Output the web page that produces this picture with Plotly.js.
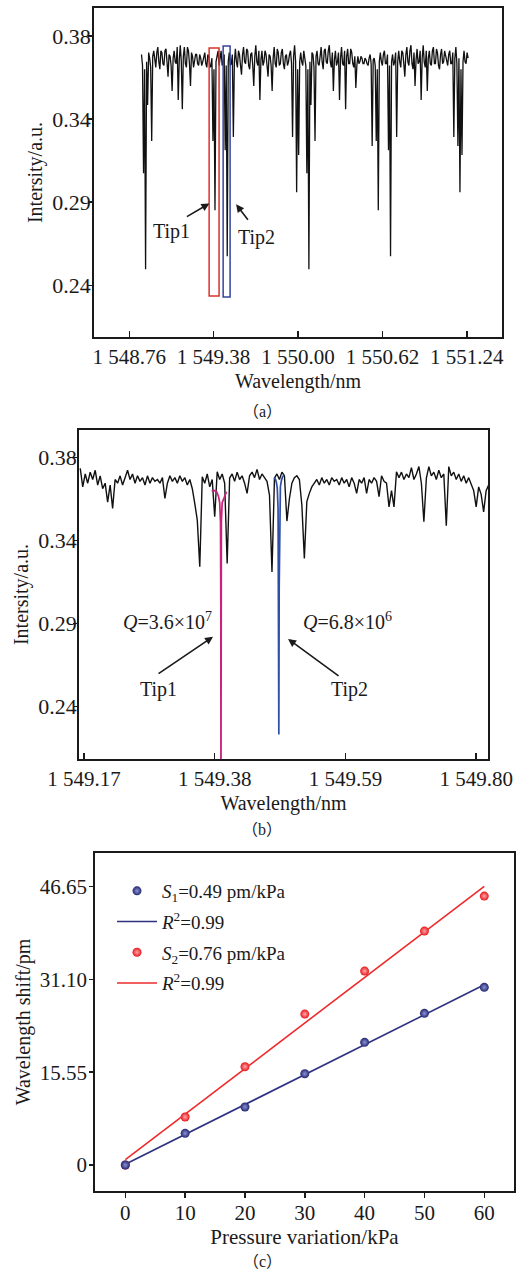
<!DOCTYPE html>
<html><head><meta charset="utf-8">
<script src="https://cdn.plot.ly/plotly-3.0.1.min.js"></script>
<style>html,body{margin:0;padding:0;background:#fff}#chart{width:520px;height:1273px}</style>
</head><body><div id="chart"></div>
<script>
// ---------- (a) full spectrum ----------
const wlA = [
1548.8500,1548.8575,1548.8650,1548.8725,1548.8800,1548.8875,1548.8950,1548.9025,1548.9100,1548.9175,1548.9250,1548.9325,1548.9400,1548.9475,1548.9550,1548.9625,1548.9700,1548.9775,1548.9850,1548.9925,
1549.0000,1549.0075,1549.0150,1549.0225,1549.0300,1549.0375,1549.0450,1549.0525,1549.0600,1549.0675,1549.0750,1549.0825,1549.0900,1549.0975,1549.1050,1549.1125,1549.1200,1549.1275,1549.1350,1549.1425,
1549.1500,1549.1575,1549.1650,1549.1725,1549.1800,1549.1875,1549.1950,1549.2025,1549.2100,1549.2175,1549.2250,1549.2325,1549.2400,1549.2475,1549.2550,1549.2625,1549.2700,1549.2775,1549.2850,1549.2925,
1549.3000,1549.3075,1549.3150,1549.3225,1549.3300,1549.3375,1549.3450,1549.3525,1549.3600,1549.3675,1549.3750,1549.3825,1549.3900,1549.3975,1549.4050,1549.4125,1549.4200,1549.4275,1549.4350,1549.4425,
1549.4500,1549.4575,1549.4650,1549.4725,1549.4800,1549.4875,1549.4950,1549.5025,1549.5100,1549.5175,1549.5250,1549.5325,1549.5400,1549.5475,1549.5550,1549.5625,1549.5700,1549.5775,1549.5850,1549.5925,
1549.6000,1549.6075,1549.6150,1549.6225,1549.6300,1549.6375,1549.6450,1549.6525,1549.6600,1549.6675,1549.6750,1549.6825,1549.6900,1549.6975,1549.7050,1549.7125,1549.7200,1549.7275,1549.7350,1549.7425,
1549.7500,1549.7575,1549.7650,1549.7725,1549.7800,1549.7875,1549.7950,1549.8025,1549.8100,1549.8175,1549.8250,1549.8325,1549.8400,1549.8475,1549.8550,1549.8625,1549.8700,1549.8775,1549.8850,1549.8925,
1549.9000,1549.9075,1549.9150,1549.9225,1549.9300,1549.9375,1549.9450,1549.9525,1549.9600,1549.9675,1549.9750,1549.9825,1549.9900,1549.9975,1550.0050,1550.0125,1550.0200,1550.0275,1550.0350,1550.0425,
1550.0500,1550.0575,1550.0650,1550.0725,1550.0800,1550.0875,1550.0950,1550.1025,1550.1100,1550.1175,1550.1250,1550.1325,1550.1400,1550.1475,1550.1550,1550.1625,1550.1700,1550.1775,1550.1850,1550.1925,
1550.2000,1550.2075,1550.2150,1550.2225,1550.2300,1550.2375,1550.2450,1550.2525,1550.2600,1550.2675,1550.2750,1550.2825,1550.2900,1550.2975,1550.3050,1550.3125,1550.3200,1550.3275,1550.3350,1550.3425,
1550.3500,1550.3575,1550.3650,1550.3725,1550.3800,1550.3875,1550.3950,1550.4025,1550.4100,1550.4175,1550.4250,1550.4325,1550.4400,1550.4475,1550.4550,1550.4625,1550.4700,1550.4775,1550.4850,1550.4925,
1550.5000,1550.5075,1550.5150,1550.5225,1550.5300,1550.5375,1550.5450,1550.5525,1550.5600,1550.5675,1550.5750,1550.5825,1550.5900,1550.5975,1550.6050,1550.6125,1550.6200,1550.6275,1550.6350,1550.6425,
1550.6500,1550.6575,1550.6650,1550.6725,1550.6800,1550.6875,1550.6950,1550.7025,1550.7100,1550.7175,1550.7250,1550.7325,1550.7400,1550.7475,1550.7550,1550.7625,1550.7700,1550.7775,1550.7850,1550.7925,
1550.8000,1550.8075,1550.8150,1550.8225,1550.8300,1550.8375,1550.8450,1550.8525,1550.8600,1550.8675,1550.8750,1550.8825,1550.8900,1550.8975,1550.9050,1550.9125,1550.9200,1550.9275,1550.9350,1550.9425,
1550.9500,1550.9575,1550.9650,1550.9725,1550.9800,1550.9875,1550.9950,1551.0025,1551.0100,1551.0175,1551.0250,1551.0325,1551.0400,1551.0475,1551.0550,1551.0625,1551.0700,1551.0775,1551.0850,1551.0925,
1551.1000,1551.1075,1551.1150,1551.1225,1551.1300,1551.1375,1551.1450,1551.1525,1551.1600,1551.1675,1551.1750,1551.1825,1551.1900,1551.1975,1551.2050,1551.2125,1551.2200,1551.2275,1551.2350,1551.2425,
1551.2500];
const intA = [
0.370,0.364,0.3057,0.362,0.2537,0.366,0.3426,0.371,0.368,0.363,0.3231,0.369,0.372,0.365,0.363,0.371,0.374,0.366,0.362,0.372,
0.371,0.365,0.364,0.372,0.373,0.366,0.358,0.370,0.369,0.364,0.3502,0.368,0.372,0.366,0.365,0.374,0.3453,0.367,0.375,0.366,
0.3404,0.369,0.374,0.365,0.363,0.374,0.372,0.365,0.3529,0.371,0.369,0.363,0.366,0.370,0.370,0.365,0.364,0.370,0.368,0.364,
0.366,0.369,0.371,0.365,0.363,0.370,0.369,0.363,0.364,0.368,0.3231,0.362,0.2857,0.366,0.370,0.372,0.364,0.368,0.372,0.364,
0.366,0.370,0.3182,0.364,0.2608,0.366,0.371,0.364,0.365,0.370,0.3253,0.366,0.373,0.366,0.363,0.372,0.370,0.364,0.359,0.370,
0.374,0.366,0.365,0.373,0.372,0.364,0.362,0.370,0.371,0.364,0.3529,0.369,0.375,0.366,0.364,0.372,0.3453,0.367,0.372,0.364,
0.366,0.372,0.370,0.364,0.358,0.370,0.369,0.364,0.3502,0.368,0.374,0.365,0.363,0.373,0.371,0.364,0.365,0.371,0.373,0.365,
0.362,0.369,0.370,0.364,0.366,0.370,0.372,0.365,0.3253,0.369,0.375,0.366,0.2954,0.362,0.3155,0.366,0.371,0.366,0.364,0.372,
0.369,0.364,0.3057,0.362,0.2537,0.366,0.3426,0.371,0.370,0.363,0.3231,0.369,0.372,0.365,0.364,0.371,0.374,0.366,0.362,0.372,
0.373,0.366,0.365,0.372,0.375,0.366,0.363,0.371,0.3502,0.367,0.372,0.364,0.366,0.371,0.3453,0.368,0.374,0.365,0.364,0.372,
0.3404,0.369,0.373,0.365,0.365,0.373,0.371,0.365,0.363,0.369,0.3518,0.364,0.369,0.365,0.366,0.369,0.368,0.365,0.365,0.368,
0.367,0.365,0.364,0.368,0.370,0.365,0.3204,0.367,0.368,0.364,0.3231,0.362,0.2857,0.366,0.371,0.366,0.364,0.370,0.372,0.365,
0.365,0.370,0.3182,0.364,0.2608,0.366,0.370,0.364,0.366,0.371,0.3253,0.366,0.372,0.366,0.363,0.372,0.371,0.365,0.358,0.370,
0.374,0.366,0.364,0.372,0.375,0.365,0.362,0.371,0.3529,0.367,0.373,0.365,0.366,0.372,0.3453,0.368,0.375,0.366,0.363,0.372,
0.3502,0.368,0.372,0.365,0.364,0.372,0.374,0.365,0.365,0.373,0.371,0.364,0.362,0.370,0.373,0.365,0.366,0.372,0.369,0.365,
0.364,0.370,0.372,0.365,0.365,0.371,0.3253,0.368,0.374,0.365,0.3204,0.368,0.2954,0.362,0.3155,0.366,0.372,0.366,0.365,0.371,
0.368];

// ---------- (b) zoomed spectrum ----------
const wlB = [
1549.164,1549.168,1549.172,1549.176,1549.180,1549.184,1549.188,1549.192,1549.196,1549.200,
1549.204,1549.208,1549.212,1549.216,1549.220,1549.224,1549.228,1549.232,1549.236,1549.240,
1549.244,1549.248,1549.252,1549.256,1549.260,1549.264,1549.268,1549.272,1549.276,1549.280,
1549.284,1549.288,1549.292,1549.296,1549.300,1549.304,1549.308,1549.312,1549.316,1549.320,
1549.324,1549.328,1549.332,1549.336,1549.340,1549.344,1549.348,1549.352,1549.356,1549.360,
1549.364,1549.368,1549.372,1549.376,1549.380,1549.384,1549.388,1549.392,1549.396,1549.400,
1549.404,1549.408,1549.412,1549.416,1549.420,1549.424,1549.428,1549.432,1549.436,1549.440,
1549.444,1549.448,1549.452,1549.456,1549.460,1549.464,1549.468,1549.472,1549.476,1549.480,
1549.484,1549.488,1549.492,1549.496,1549.500,1549.504,1549.508,1549.512,1549.516,1549.520,
1549.524,1549.528,1549.532,1549.536,1549.540,1549.544,1549.548,1549.552,1549.556,1549.560,
1549.564,1549.568,1549.572,1549.576,1549.580,1549.584,1549.588,1549.592,1549.596,1549.600,
1549.604,1549.608,1549.612,1549.616,1549.620,1549.624,1549.628,1549.632,1549.636,1549.640,
1549.644,1549.648,1549.652,1549.656,1549.660,1549.664,1549.668,1549.672,1549.676,1549.680,
1549.684,1549.688,1549.692,1549.696,1549.700,1549.704,1549.708,1549.712,1549.716,1549.720,
1549.724,1549.728,1549.732,1549.736,1549.740,1549.744,1549.748,1549.752,1549.756,1549.760,
1549.764,1549.768,1549.772,1549.776,1549.780,1549.784,1549.788,1549.792,1549.796,1549.800,
1549.804,1549.808,1549.812,1549.816,1549.820];
const intB = [
0.374,0.364,0.371,0.366,0.372,0.368,0.373,0.365,0.370,0.363,
0.366,0.3558,0.365,0.3524,0.368,0.366,0.370,0.365,0.369,0.373,
0.368,0.371,0.366,0.370,0.367,0.369,0.365,0.370,0.366,0.369,
0.367,0.368,0.366,0.369,0.3578,0.366,0.370,0.367,0.369,0.366,
0.370,0.367,0.369,0.365,0.368,0.363,0.355,0.346,0.3208,0.3695,
0.366,0.371,0.364,0.368,0.3478,0.3722,0.368,0.371,0.366,0.3226,
0.3688,0.371,0.367,0.372,0.368,0.370,0.366,0.3605,0.370,0.372,
0.369,0.3735,0.368,0.371,0.369,0.367,0.3596,0.318,0.3688,0.371,
0.368,0.372,0.370,0.3455,0.3576,0.366,0.369,0.370,0.368,0.3542,
0.3253,0.356,0.3605,0.364,0.366,0.368,0.365,0.369,0.366,0.368,
0.365,0.369,0.367,0.368,0.365,0.369,0.366,0.368,0.364,0.369,
0.366,0.3605,0.368,0.366,0.369,0.3605,0.368,0.366,0.369,0.367,
0.3587,0.370,0.367,0.366,0.3532,0.362,0.3532,0.3722,0.369,0.372,
0.368,0.371,0.369,0.3744,0.368,0.371,0.375,0.366,0.3451,0.3688,
0.375,0.370,0.372,0.368,0.373,0.369,0.371,0.343,0.375,0.370,
0.372,0.368,0.371,0.367,0.370,0.366,0.369,0.365,0.362,0.3532,
0.364,0.360,0.3505,0.362,0.365];
// Tip1 (Q=3.6e7) and Tip2 (Q=6.8e6) resonance fits
const tip1Wl = [1549.375,1549.379,1549.383,1549.386,1549.388,1549.3893,1549.3898,1549.390,1549.3902,1549.3907,1549.392,1549.394,1549.397,1549.399];
const tip1Int = [0.3619,0.3621,0.3614,0.3590,0.3555,0.345,0.300,0.190,0.300,0.345,0.3555,0.3575,0.3605,0.3614];
const tip2Wl = [1549.4755,1549.4775,1549.479,1549.4805,1549.4818,1549.4825,1549.4830,1549.4836,1549.4843,1549.4855,1549.487,1549.489,1549.4915];
const tip2Int = [0.3690,0.3682,0.3665,0.3634,0.352,0.310,0.230,0.310,0.352,0.3641,0.3672,0.3695,0.3704];

// ---------- (c) pressure response ----------
const pressure = [0,10,20,30,40,50,60];
const shiftTip1 = [0,5.31,9.72,15.30,20.56,25.42,29.78];
const shiftTip2 = [0,8.04,16.47,25.30,32.51,39.21,45.08];

// ---------- tick labels ----------
const tickXA = [1548.76,1549.38,1550.00,1550.62,1551.24];
const tickXAText = ['1 548.76','1 549.38','1 550.00','1 550.62','1 551.24'];
const tickXB = [1549.17,1549.38,1549.59,1549.80];
const tickXBText = ['1 549.17','1 549.38','1 549.59','1 549.80'];
const tickYI = [0.245,0.29,0.335,0.38];
const tickYIText = ['0.24','0.29','0.34','0.38'];
const tickYC = [0,15.55,31.10,46.65];
const tickYCText = ['0','15.55','31.10','46.65'];

function linFit(x, y){
  const n=x.length; const mx=x.reduce((a,b)=>a+b,0)/n; const my=y.reduce((a,b)=>a+b,0)/n;
  let sxy=0,sxx=0; for(let i=0;i<n;i++){sxy+=(x[i]-mx)*(y[i]-my); sxx+=(x[i]-mx)*(x[i]-mx);}
  const k=sxy/sxx, b=my-k*mx; return x.map(v=>k*v+b);
}

const INK='#1a1a1a';
const FONT='"Liberation Serif","Times New Roman",serif';
function ax(extra){
  return Object.assign({showline:true,mirror:true,linecolor:INK,linewidth:1.8,showgrid:false,zeroline:false,
    ticks:'outside',ticklen:4,tickwidth:1.5,tickcolor:INK,tickfont:{size:21,color:INK,family:FONT}},extra);
}

const traces = [
  {x:wlA,y:intA,xaxis:'x',yaxis:'y',mode:'lines',line:{color:'#111',width:1.3},showlegend:false,hoverinfo:'skip'},
  {x:wlB,y:intB,xaxis:'x2',yaxis:'y2',mode:'lines',line:{color:'#111',width:1.4},showlegend:false,hoverinfo:'skip'},
  {x:tip1Wl,y:tip1Int,xaxis:'x2',yaxis:'y2',mode:'lines',line:{color:'#c8237a',width:1.7},showlegend:false},
  {x:tip2Wl,y:tip2Int,xaxis:'x2',yaxis:'y2',mode:'lines',line:{color:'#2f4ea6',width:1.7},showlegend:false},
  {x:pressure,y:linFit(pressure,shiftTip2),xaxis:'x3',yaxis:'y3',mode:'lines',line:{color:'#ee2a2a',width:1.6},
    name:'<i>R</i><sup>2</sup>=0.99',legendrank:4,legendgroup:'d'},
  {x:pressure,y:linFit(pressure,shiftTip1),xaxis:'x3',yaxis:'y3',mode:'lines',line:{color:'#2e3180',width:1.6},
    name:'<i>R</i><sup>2</sup>=0.99',legendrank:2,legendgroup:'b'},
  {x:pressure,y:shiftTip2,xaxis:'x3',yaxis:'y3',mode:'markers',
    marker:{color:'#e8161c',size:9,gradient:{type:'radial',color:'#ffa8a8'},line:{width:0}},
    name:'<i>S</i><sub>2</sub>=0.76 pm/kPa',legendrank:3,legendgroup:'c'},
  {x:pressure,y:shiftTip1,xaxis:'x3',yaxis:'y3',mode:'markers',
    marker:{color:'#23276e',size:9,gradient:{type:'radial',color:'#8d92d8'},line:{width:0}},
    name:'<i>S</i><sub>1</sub>=0.49 pm/kPa',legendrank:1,legendgroup:'a'}
];

const arrow = {showarrow:true,arrowhead:2,arrowsize:1,arrowwidth:1.6,arrowcolor:INK,text:''};
const lab = {showarrow:false,xanchor:'center',yanchor:'middle',font:{size:20,color:INK,family:FONT}};
const CAP = {xref:'paper',yref:'paper',showarrow:false,xanchor:'center',yanchor:'middle',
  font:{size:16,color:INK,family:'"Liberation Serif","Noto Sans CJK SC",serif'}};
const annotations = [
  Object.assign({},arrow,{xref:'x',yref:'y',x:1549.349,y:0.2893,ax:-24,ay:14}),
  Object.assign({},arrow,{xref:'x',yref:'y',x:1549.545,y:0.2889,ax:13,ay:17}),
  Object.assign({},lab,{xref:'x',yref:'y',x:1549.068,y:0.2743,text:'Tip1'}),
  Object.assign({},lab,{xref:'x',yref:'y',x:1549.694,y:0.2711,text:'Tip2'}),
  Object.assign({},arrow,{xref:'x2',yref:'y2',x:1549.3773,y:0.2829,ax:-56,ay:38}),
  Object.assign({},arrow,{xref:'x2',yref:'y2',x:1549.4978,y:0.2817,ax:52,ay:38}),
  Object.assign({},lab,{xref:'x2',yref:'y2',x:1549.2905,y:0.2541,text:'Tip1'}),
  Object.assign({},lab,{xref:'x2',yref:'y2',x:1549.5959,y:0.2541,text:'Tip2'}),
  Object.assign({},lab,{xref:'x2',yref:'y2',x:1549.3034,y:0.2914,text:'<i>Q</i>=3.6×10<sup>7</sup>'}),
  Object.assign({},lab,{xref:'x2',yref:'y2',x:1549.5927,y:0.2914,text:'<i>Q</i>=6.8×10<sup>6</sup>'}),
  Object.assign({},CAP,{x:262/520,y:1-411/1273,text:'（a）'}),
  Object.assign({},CAP,{x:262/520,y:1-829/1273,text:'（b）'}),
  Object.assign({},CAP,{x:262/520,y:1-1261/1273,text:'（c）'})
];

const shapes = [
  {type:'rect',xref:'x',yref:'y',x0:1549.347,x1:1549.420,y0:0.2392,y1:0.3735,line:{color:'#d8332f',width:1.5}},
  {type:'rect',xref:'x',yref:'y',x0:1549.450,x1:1549.501,y0:0.2387,y1:0.3746,line:{color:'#33449c',width:1.5}}
];

const layout = {
  width:520,height:1273,margin:{l:0,r:0,t:0,b:0},paper_bgcolor:'#fff',plot_bgcolor:'#fff',
  font:{family:FONT,color:INK,size:20},
  xaxis: ax({domain:[94/520,502/520],anchor:'y',range:[1548.501,1551.499],ticks:'inside',ticklen:6,
    tickmode:'array',tickvals:tickXA,ticktext:tickXAText,title:{text:'Wavelength/nm',font:{size:20},standoff:6}}),
  yaxis: ax({domain:[1-337/1273,1-8/1273],anchor:'x',range:[0.21701,0.39516],tickfont:{size:22,color:INK,family:FONT},
    ticklabelstandoff:-7,tickmode:'array',tickvals:tickYI,ticktext:tickYIText,
    title:{text:'Intersity/a.u.',font:{size:20},standoff:4}}),
  xaxis2: ax({domain:[79/520,488/520],anchor:'y2',range:[1549.162,1549.819],ticks:'inside',ticklen:6,
    tickmode:'array',tickvals:tickXB,ticktext:tickXBText,title:{text:'Wavelength/nm',font:{size:20},standoff:6}}),
  yaxis2: ax({domain:[1-759/1273,1-430/1273],anchor:'x2',range:[0.2167,0.3948],tickfont:{size:22,color:INK,family:FONT},
    ticklabelstandoff:-8,tickmode:'array',tickvals:tickYI,ticktext:tickYIText,
    title:{text:'Intersity/a.u.',font:{size:20},standoff:4}}),
  xaxis3: ax({domain:[95/520,514/520],anchor:'y3',range:[-5.07,64.97],ticklen:5,ticklabelstandoff:-3,
    tickmode:'array',tickvals:pressure,title:{text:'Pressure variation/kPa',font:{size:21},standoff:0}}),
  yaxis3: ax({domain:[1-1191/1273,1-853/1273],anchor:'x3',range:[-4.36,52.3],
    ticklabelstandoff:-2,tickmode:'array',tickvals:tickYC,ticktext:tickYCText,
    title:{text:'Wavelength shift/pm',font:{size:20},standoff:4}}),
  showlegend:true,
  legend:{x:112/520,xanchor:'left',y:1-872/1273,yanchor:'top',bgcolor:'rgba(0,0,0,0)',borderwidth:0,
    itemwidth:40,tracegroupgap:3,font:{size:19,color:INK,family:FONT},traceorder:'grouped'},
  annotations:annotations, shapes:shapes
};

Plotly.newPlot('chart',traces,layout,{staticPlot:true,displayModeBar:false});
</script></body></html>
